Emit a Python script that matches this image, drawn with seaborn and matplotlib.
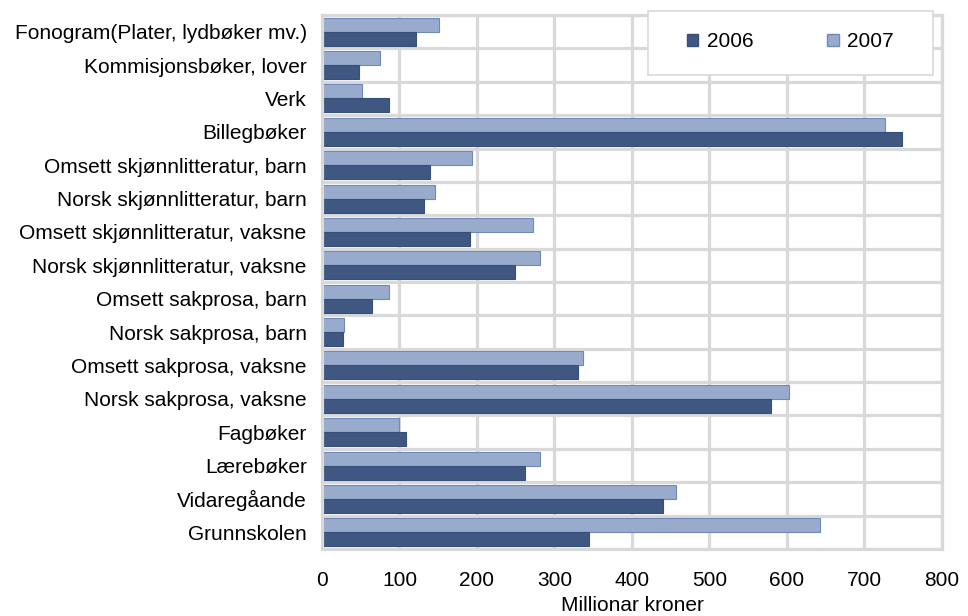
import pandas as pd
import numpy as np
import matplotlib
matplotlib.use("Agg")
import matplotlib.pyplot as plt
import seaborn as sns
from matplotlib.patches import Patch, Rectangle

# Data (millionar kroner), categories top to bottom
categories = [
    "Fonogram(Plater, lydbøker mv.)",
    "Kommisjonsbøker, lover",
    "Verk",
    "Billegbøker",
    "Omsett skjønnlitteratur, barn",
    "Norsk skjønnlitteratur, barn",
    "Omsett skjønnlitteratur, vaksne",
    "Norsk skjønnlitteratur, vaksne",
    "Omsett sakprosa, barn",
    "Norsk sakprosa, barn",
    "Omsett sakprosa, vaksne",
    "Norsk sakprosa, vaksne",
    "Fagbøker",
    "Lærebøker",
    "Vidaregåande",
    "Grunnskolen",
]
values_2006 = [121, 48, 86, 748, 139, 132, 191, 249, 65, 27, 330, 580, 108, 262, 440, 345]
values_2007 = [151, 75, 52, 727, 193, 146, 272, 281, 86, 29, 337, 602, 99, 281, 457, 643]
x_ticks = [0, 100, 200, 300, 400, 500, 600, 700, 800]

dark = "#3F5781"
light = "#98ABCD"
dark_edge = "#37507A"
light_edge = "#7189BA"
grid_col = "#D9D9D9"

df = pd.DataFrame({
    "Kategori": categories * 2,
    "Verdi": values_2006 + values_2007,
    "År": ["2006"] * len(categories) + ["2007"] * len(categories),
})

sns.set_style("white")
plt.rcParams["font.family"] = ["Liberation Sans", "DejaVu Sans"]
plt.rcParams["text.color"] = "black"
plt.rcParams["xtick.color"] = "black"
plt.rcParams["ytick.color"] = "black"
plt.rcParams["axes.labelcolor"] = "black"

fs = 15

fig = plt.figure(figsize=(9.68, 6.16), dpi=100)
ax = fig.add_axes([0.3326, 0.1088, 0.6405, 0.8668])

sns.barplot(data=df, y="Kategori", x="Verdi", hue="År",
            order=categories, hue_order=["2007", "2006"],
            palette={"2006": dark, "2007": light}, saturation=1,
            orient="h", width=0.84, ax=ax, legend=False)

# thin edges like the original
for bar in ax.patches:
    fc = bar.get_facecolor()
    if np.allclose(fc[:3], matplotlib.colors.to_rgb(light), atol=0.02):
        bar.set_edgecolor(light_edge)
    else:
        bar.set_edgecolor(dark_edge)
    bar.set_linewidth(0.8)

ax.set_xlim(0, 800)
ax.set_ylim(len(categories) - 0.5, -0.5)
ax.set_xticks(x_ticks)
ax.set_xticklabels([str(t) for t in x_ticks], fontsize=fs)
ax.set_yticks(np.arange(len(categories)))
ax.set_yticklabels(categories, fontsize=fs)

# gridlines at category boundaries and at x ticks
ax.set_yticks(np.arange(len(categories) + 1) - 0.5, minor=True)
ax.grid(which="minor", axis="y", color=grid_col, linewidth=2.3)
ax.grid(which="major", axis="x", color=grid_col, linewidth=2.3)
ax.set_axisbelow(True)
for side in ["top", "right", "bottom", "left"]:
    ax.spines[side].set_color(grid_col)
    ax.spines[side].set_linewidth(2.3)

ax.tick_params(axis="x", which="both", length=0, pad=16)
ax.tick_params(axis="y", which="both", length=0, pad=11)

ax.set_xlabel("Millionar kroner", fontsize=fs, labelpad=4)
ax.set_ylabel("")

# legend box (white frame) with the entries centred inside
box_x0, box_x1 = 0.526, 0.985
box_y0, box_y1 = 0.8876, 1.0075
ax.add_patch(Rectangle((box_x0, box_y0), box_x1 - box_x0, box_y1 - box_y0,
                       transform=ax.transAxes, facecolor="white",
                       edgecolor=grid_col, linewidth=1.2, clip_on=False, zorder=4.5))
handles = [Patch(facecolor=dark, edgecolor=dark_edge, label="2006"),
           Patch(facecolor=light, edgecolor=light_edge, label="2007")]
leg = ax.legend(handles=handles, loc="center",
                bbox_to_anchor=((box_x0 + box_x1) / 2, (box_y0 + box_y1) / 2 + 0.002),
                ncol=2, fontsize=fs, frameon=False,
                handlelength=0.55, handleheight=0.55, columnspacing=3.55,
                borderpad=0, handletextpad=0.4, borderaxespad=0)
leg.set_zorder(5)

plt.savefig("out.png", dpi=100)
